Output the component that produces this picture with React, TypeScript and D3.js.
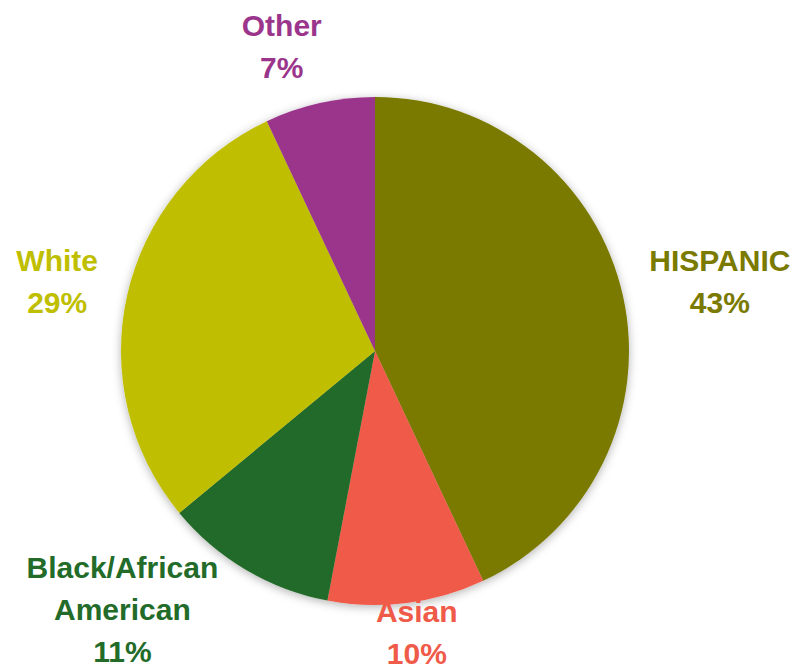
import React from "react";
import * as d3 from "d3";

const categories = ["HISPANIC", "Asian", "Black/African American", "White", "Other"];
const values = [43, 10, 11, 29, 7];
const labelLines = [["HISPANIC"], ["Asian"], ["Black/African", "American"], ["White"], ["Other"]];
const colors = ["#7a7900", "#f05a48", "#226b29", "#c0be00", "#9b358c"];
const labelColors = ["#7a7900", "#f05a48", "#226b29", "#c0be00", "#9b358c"];

const W = 796;
const H = 671;
const cx = 375;
const cy = 351;
const R = 254;
const labelOffsets: [number, number][] = [[35, 10], [2, -23], [-91, -4], [-8, 10], [-24, 16]];
const lineH = 42;

export default function App() {
  const data = categories.map((c, i) => ({ c, v: values[i], i }));
  const pie = d3.pie<any>().value((d) => d.v).sort(null);
  const arcs = pie(data);
  const arc = d3.arc<any>().innerRadius(0).outerRadius(R);
  const labelArc = d3.arc<any>().innerRadius(R * 1.25).outerRadius(R * 1.25);
  const total = d3.sum(values);
  return (
    <svg width={W} height={H} style={{ position: "absolute", left: 0, top: 0 }}>
      <defs>
        <filter id="sh" x="-20%" y="-20%" width="140%" height="140%">
          <feDropShadow dx="0" dy="2" stdDeviation="5" floodColor="#000" floodOpacity="0.3" />
        </filter>
      </defs>
      <g transform={`translate(${cx},${cy})`}>
        <g filter="url(#sh)">
          {arcs.map((a, i) => (
            <path key={i} d={arc(a) || ""} fill={colors[i]} />
          ))}
        </g>
        {arcs.map((a, i) => {
          const [x, y] = labelArc.centroid(a);
          const lx = x + labelOffsets[i][0];
          const ly = y + labelOffsets[i][1];
          const lines = [...labelLines[i], `${Math.round((values[i] / total) * 100)}%`];
          const first = ly - ((lines.length - 1) * lineH) / 2;
          return (
            <text
              key={i}
              textAnchor="middle"
              fill={labelColors[i]}
              fontFamily="'Liberation Sans', Arial, sans-serif"
              fontWeight="bold"
              fontSize={30}
            >
              {lines.map((t, j) => (
                <tspan key={j} x={lx} y={first + j * lineH}>
                  {t}
                </tspan>
              ))}
            </text>
          );
        })}
      </g>
    </svg>
  );
}
